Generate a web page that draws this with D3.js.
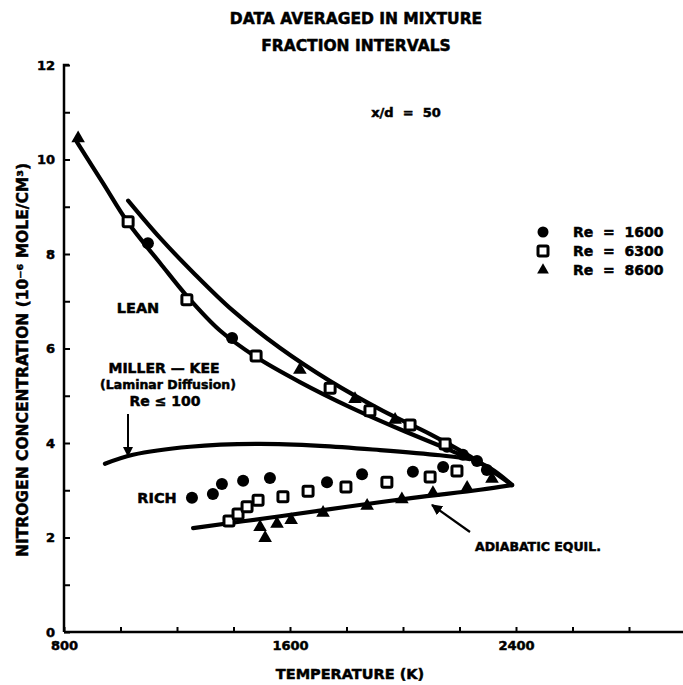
<!DOCTYPE html>
<html><head><meta charset="utf-8">
<script src="https://cdn.jsdelivr.net/npm/d3@7"></script>
<style>
body{margin:0;background:#fff;}
text{font-family:"DejaVu Sans","Liberation Sans",sans-serif;font-weight:bold;fill:#000;stroke:#000;stroke-width:0.5px;}
</style></head>
<body><svg id="c" width="683" height="685"></svg>
<script>
// ---- data (Temperature K, N2 concentration 10^-6 mole/cm3) ----
const re1600T = [1097,1395,1253,1327,1359,1434,1529,1731,1855,2035,2142,2156,2212,2262,2297];
const re1600C = [8.23,6.22,2.84,2.92,3.13,3.20,3.26,3.17,3.34,3.39,3.49,3.92,3.75,3.62,3.43];
const re6300T = [1027,1235,1480,1742,1883,2025,2149,1384,1416,1448,1487,1575,1664,1798,1943,2096,2191];
const re6300C = [8.68,7.03,5.84,5.16,4.68,4.38,3.98,2.35,2.50,2.65,2.79,2.86,2.98,3.07,3.17,3.28,3.41];
const re8600T = [850,1635,1830,1972,1494,1512,1554,1604,1717,1873,1996,2106,2227,2315];
const re8600C = [10.45,5.55,4.93,4.49,2.22,1.99,2.29,2.37,2.52,2.67,2.81,2.94,3.05,3.24];

const leanUpperT = [1027,1140,1257,1398,1565,1742,1929,2096,2237,2386];
const leanUpperC = [9.13,8.34,7.61,6.80,6.01,5.31,4.68,4.19,3.72,3.11];
const leanLowerT = [846,938,1027,1140,1235,1352,1480,1635,1812,1989,2166,2308,2386];
const leanLowerC = [10.37,9.50,8.66,7.81,7.11,6.38,5.82,5.29,4.76,4.29,3.85,3.47,3.11];
const millerKeeT = [945,1044,1246,1483,1706,1919,2131,2237];
const millerKeeC = [3.56,3.75,3.92,3.98,3.94,3.85,3.74,3.66];
const adiabaticT = [1257,1565,1802,2035,2273,2386];
const adiabaticC = [2.20,2.45,2.65,2.84,3.01,3.11];

const xTickLabels = [800,1600,2400];
const yTickLabels = [0,2,4,6,8,10,12];
const legendLabels = ["Re  =  1600","Re  =  6300","Re  =  8600"];

// ---- chart ----
const svg = d3.select("#c");
const x = d3.scaleLinear().domain([800,3000]).range([64,685.5]);
const y = d3.scaleLinear().domain([0,12]).range([632,65]);

// axes
const xAxis = d3.axisBottom(x).tickValues(d3.range(800,3000,200)).tickSize(-5)
  .tickFormat(d=>xTickLabels.includes(d)?d:"");
const gx = svg.append("g").attr("transform","translate(0,632)").call(xAxis);
gx.select(".domain").attr("stroke-width",2.5).attr("d","M64,0H683");
gx.selectAll(".tick line").attr("stroke-width",2);
gx.selectAll(".tick text").attr("font-size",13).attr("dy","1.15em");

const yAxis = d3.axisLeft(y).tickValues(d3.range(0,13,1)).tickSize(-6)
  .tickFormat(d=>yTickLabels.includes(d)?d:"");
const gy = svg.append("g").attr("transform","translate(64,0)").call(yAxis);
gy.select(".domain").attr("stroke-width",2.5).attr("d","M0,632V65H5");
gy.selectAll(".tick line").attr("stroke-width",2);
gy.selectAll(".tick text").attr("font-size",13).attr("x",-9);
svg.selectAll(".tick text").style("font-family","DejaVu Sans, sans-serif").style("font-weight","bold")
  .attr("fill","#000").attr("stroke","#000").attr("stroke-width",0.5);

// curves
const line = d3.line().x(d=>x(d[0])).y(d=>y(d[1])).curve(d3.curveCatmullRom.alpha(0.5));
const zip = (a,b)=>a.map((v,i)=>[v,b[i]]);
[[leanUpperT,leanUpperC],[leanLowerT,leanLowerC],[millerKeeT,millerKeeC],[adiabaticT,adiabaticC]]
 .forEach(([t,c])=>{
  svg.append("path").attr("d",line(zip(t,c))).attr("fill","none")
    .attr("stroke","#000").attr("stroke-width",4.2).attr("stroke-linecap","round");
 });

// markers
svg.append("g").selectAll("circle").data(zip(re1600T,re1600C)).join("circle")
  .attr("cx",d=>x(d[0])).attr("cy",d=>y(d[1])).attr("r",6).attr("fill","#000");
svg.append("g").selectAll("rect").data(zip(re6300T,re6300C)).join("rect")
  .attr("x",d=>x(d[0])-5).attr("y",d=>y(d[1])-5).attr("width",10).attr("height",10).attr("rx",1.5)
  .attr("fill","#fff").attr("stroke","#000").attr("stroke-width",3);
const tri = d3.symbol().type(d3.symbolTriangle).size(80);
svg.append("g").selectAll("path").data(zip(re8600T,re8600C)).join("path")
  .attr("d",tri).attr("transform",d=>`translate(${x(d[0])},${y(d[1])})`).attr("fill","#000");

// titles
svg.append("text").attr("x",356).attr("y",24).attr("text-anchor","middle")
  .attr("font-size",15.5).text("DATA AVERAGED IN MIXTURE");
svg.append("text").attr("x",356).attr("y",51).attr("text-anchor","middle")
  .attr("font-size",15.5).text("FRACTION INTERVALS");
svg.append("text").attr("x",406).attr("y",117).attr("text-anchor","middle")
  .attr("font-size",13).attr("xml:space","preserve").text("x/d  =  50");

// axis titles
svg.append("text").attr("x",350).attr("y",679).attr("text-anchor","middle")
  .attr("font-size",14.5).text("TEMPERATURE (K)");
svg.append("text").attr("transform","translate(28,360) rotate(-90)").attr("text-anchor","middle")
  .attr("font-size",15.5).text("NITROGEN CONCENTRATION (10⁻⁶ MOLE/CM³)");

// legend
const legY = [232,251,270];
legendLabels.forEach((lab,i)=>{
  const ly = legY[i];
  if(i===0) svg.append("circle").attr("cx",543).attr("cy",ly).attr("r",5.5).attr("fill","#000");
  if(i===1) svg.append("rect").attr("x",538).attr("y",ly-5).attr("width",10).attr("height",10).attr("rx",1.5)
     .attr("fill","#fff").attr("stroke","#000").attr("stroke-width",3);
  if(i===2) svg.append("path").attr("d",d3.symbol().type(d3.symbolTriangle).size(60)())
     .attr("transform",`translate(543,${ly})`).attr("fill","#000");
  svg.append("text").attr("x",573).attr("y",ly+5).attr("font-size",14)
     .attr("xml:space","preserve").text(lab);
});

// annotations
svg.append("text").attr("x",138).attr("y",313).attr("text-anchor","middle").attr("font-size",14.5).text("LEAN");
svg.append("text").attr("x",164).attr("y",373).attr("text-anchor","middle").attr("font-size",14).text("MILLER — KEE");
svg.append("text").attr("x",168).attr("y",389).attr("text-anchor","middle").attr("font-size",12.5).text("(Laminar Diffusion)");
svg.append("text").attr("x",165).attr("y",406).attr("text-anchor","middle").attr("font-size",14).text("Re ≤ 100");
svg.append("text").attr("x",157).attr("y",503).attr("text-anchor","middle").attr("font-size",14.5).text("RICH");
svg.append("text").attr("x",475).attr("y",551).attr("font-size",12.5).text("ADIABATIC EQUIL.");

svg.append("defs").append("marker").attr("id","ah").attr("viewBox","0 0 10 10")
  .attr("refX",9).attr("refY",5).attr("markerWidth",5).attr("markerHeight",5).attr("orient","auto")
  .append("path").attr("d","M0,0L10,5L0,10Z").attr("fill","#000");
svg.append("line").attr("x1",128).attr("y1",414).attr("x2",128).attr("y2",456)
  .attr("stroke","#000").attr("stroke-width",2).attr("marker-end","url(#ah)");
svg.append("line").attr("x1",470).attr("y1",532).attr("x2",432).attr("y2",505)
  .attr("stroke","#000").attr("stroke-width",2.2).attr("marker-end","url(#ah)");
</script></body></html>
